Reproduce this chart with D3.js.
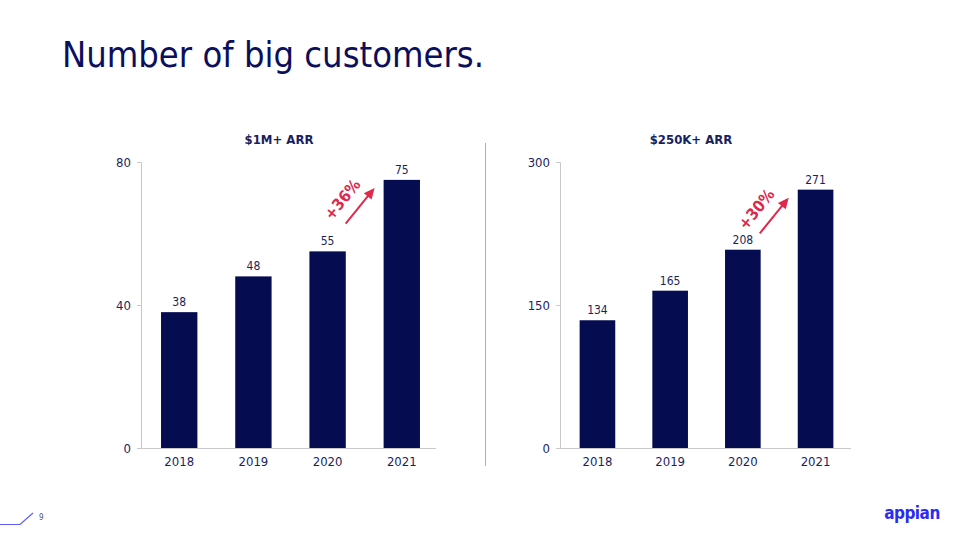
<!DOCTYPE html>
<meta charset="utf-8">
<body style="margin:0;background:#fff">
<div id="chart"></div>
</body>
<script src="https://cdn.jsdelivr.net/npm/d3@7"></script>
<script>
    var svg_width = 960,
        svg_height = 540;

    // data
    const years = ["2018", "2019", "2020", "2021"];
    const arr1m = [38, 48, 55, 75];
    const arr250k = [134, 165, 208, 271];
    const ticks1m = [0, 40, 80];
    const ticks250k = [0, 150, 300];

    const navy = "#050c50",
        textNavy = "#1a1f5e",
        red = "#e0284a",
        font = "'DejaVu Sans Condensed', 'DejaVu Sans', sans-serif";

    var svg = d3.select("#chart").append("svg")
        .attr("width", svg_width)
        .attr("height", svg_height)
        .style("font-family", font);

    svg.append("text")
        .attr("x", 62).attr("y", 67)
        .style("font-size", "36px")
        .style("fill", "#0b0f5c")
        .text("Number of big customers.");

    // one panel per metric
    function drawPanel(opt) {
        var g = svg.append("g");
        var x = d3.scaleBand().domain(years).range([opt.x0, opt.x1]).paddingInner(0.51).paddingOuter(0.27);
        var y = d3.scaleLinear().domain([0, opt.ticks[2]]).range([448, 162]);

        g.append("text")
            .attr("x", opt.titleX).attr("y", 144)
            .attr("text-anchor", "middle")
            .style("font-size", "13px").style("font-weight", "bold")
            .style("fill", textNavy)
            .text(opt.title);

        var yAxis = g.append("g")
            .attr("transform", "translate(" + opt.x0 + ",0)")
            .call(d3.axisLeft(y).tickValues(opt.ticks).tickSize(4).tickPadding(6));
        yAxis.select(".domain").attr("stroke", "#c8c8c8");
        yAxis.selectAll(".tick line").attr("stroke", "#c8c8c8");
        yAxis.selectAll("text").style("font-size", "13px").style("fill", textNavy).style("font-family", font);

        g.selectAll("rect.bar")
            .data(opt.values)
            .enter().append("rect")
            .attr("class", "bar")
            .attr("x", function(d, i) { return x(years[i]); })
            .attr("y", function(d) { return y(d); })
            .attr("width", x.bandwidth())
            .attr("height", function(d) { return y(0) - y(d); })
            .style("fill", navy);

        g.selectAll("text.val")
            .data(opt.values)
            .enter().append("text")
            .attr("class", "val")
            .attr("x", function(d, i) { return x(years[i]) + x.bandwidth() / 2; })
            .attr("y", function(d) { return y(d) - 6; })
            .attr("text-anchor", "middle")
            .style("font-size", "12px").style("fill", textNavy)
            .text(function(d) { return d; });

        var xAxis = g.append("g")
            .attr("transform", "translate(0,448)")
            .call(d3.axisBottom(x).tickSize(0).tickPadding(9));
        xAxis.select(".domain").attr("stroke", "#c8c8c8")
            .attr("d", "M" + (opt.x0 - 4) + ",0.5H" + opt.axisEnd);
        xAxis.selectAll("text").style("font-size", "13px").style("fill", textNavy).style("font-family", font);

        // growth arrow pointing at the 2021 bar
        var ang = -51 * Math.PI / 180, len = 46;
        var ax1 = x(years[3]) - 9, ay1 = y(opt.values[3]) + 8;
        var ax0 = ax1 - len * Math.cos(ang), ay0 = ay1 - len * Math.sin(ang);
        var hl = 11, hw = 5;
        var bx = ax1 - hl * Math.cos(ang), by = ay1 - hl * Math.sin(ang);
        g.append("line")
            .attr("x1", ax0).attr("y1", ay0).attr("x2", bx + 2 * Math.cos(ang)).attr("y2", by + 2 * Math.sin(ang))
            .attr("stroke", red).attr("stroke-width", 2);
        g.append("path")
            .attr("d", "M" + ax1 + "," + ay1 +
                "L" + (bx + hw * Math.sin(ang)) + "," + (by - hw * Math.cos(ang)) +
                "L" + (bx - hw * Math.sin(ang)) + "," + (by + hw * Math.cos(ang)) + "Z")
            .style("fill", red);
        var tx = ax1 - 28, ty = ay1 + 15;
        g.append("text")
            .attr("transform", "translate(" + tx + "," + ty + ") rotate(-51)")
            .attr("text-anchor", "middle")
            .style("font-size", "16px").style("font-weight", "bold")
            .style("fill", red)
            .text(opt.growth);
    }

    drawPanel({ x0: 141, x1: 440, axisEnd: 436, title: "$1M+ ARR", titleX: 279, values: arr1m, ticks: ticks1m, growth: "+36%" });
    drawPanel({ x0: 560, x1: 853, axisEnd: 851, title: "$250K+ ARR", titleX: 691, values: arr250k, ticks: ticks250k, growth: "+30%" });

    // divider between panels
    svg.append("line")
        .attr("x1", 485.5).attr("x2", 485.5).attr("y1", 143).attr("y2", 466)
        .attr("stroke", "#b0b0b0");

    // footer
    svg.append("path")
        .attr("d", "M0,524.5H20L33,513")
        .attr("fill", "none").attr("stroke", "#5b5bff").attr("stroke-width", 1.2);
    svg.append("text")
        .attr("x", 39).attr("y", 520)
        .style("font-size", "8px").style("fill", "#555")
        .text("9");
    svg.append("text")
        .attr("x", 912).attr("y", 519)
        .attr("text-anchor", "middle")
        .style("font-size", "17px").style("font-weight", "bold")
        .style("fill", "#2b2bf2")
        .style("letter-spacing", "-0.5px")
        .text("appian");
</script>
